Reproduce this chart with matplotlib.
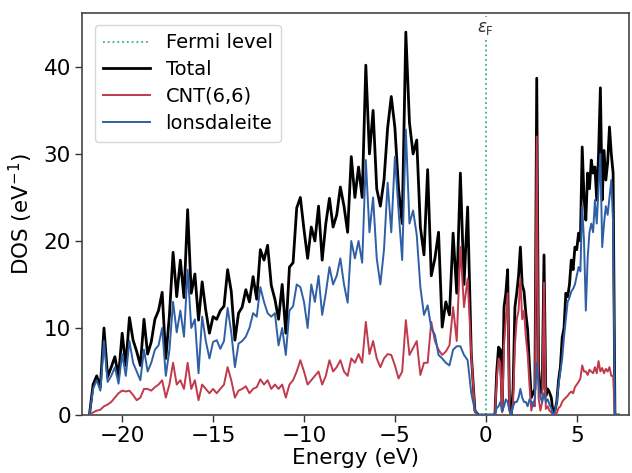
import numpy as np
import matplotlib
matplotlib.use("Agg")
import matplotlib.pyplot as plt

# Energy grids (eV): coarse on valence side, fine on conduction side
energy_left = np.round(np.arange(-21.8, 0.41, 0.2), 2)   # 112 points
energy_right = np.round(np.arange(0.5, 7.31, 0.1), 2)    # 69 points

total_left = [
    0, 3.5, 4.5, 3.2, 10, 4.4, 5.5, 6.7, 4.4, 9.4,
    5.7, 11.2, 8.6, 7.3, 5.7, 11, 7, 8.4, 11, 12,
    14.1, 6.5, 11.5, 18.7, 13.6, 17.8, 13.5, 23.6, 14, 16.2,
    10.9, 15.3, 12, 9.4, 11.3, 11, 12, 12.5, 16.7, 14.2,
    8.6, 11.7, 12.4, 14.4, 13, 15.9, 13.3, 19, 17.8, 19.5,
    14.9, 13.3, 11, 15, 9.4, 17, 17.5, 23.8, 25, 21.3,
    18, 21.6, 20, 24, 17.8, 22, 24.9, 21.6, 23, 26.2,
    24, 21, 29.7, 25, 28.5, 25, 40.2, 30, 35, 26,
    24, 27, 33, 36.6, 33, 26, 22, 44, 33.6, 30,
    31.6, 21.6, 18.4, 28.2, 16, 18, 21, 10.1, 13, 11.5,
    20.9, 14, 27.8, 15, 23.9, 7, 0.5, 0, 0, 0,
    0, 0,
]
total_right = [
    0, 5, 7.8, 7.5, 0.5, 12.4, 14, 16.7, 1, 0,
    3, 12.4, 14, 16, 19.3, 15, 14.2, 11.7, 9.8, 5.6,
    2, 2.5, 3, 38.7, 5.4, 2.5, 3, 18.4, 2.2, 3,
    2.6, 2, 0.2, 0.5, 1.5, 4, 5.5, 8.9, 10, 14,
    13.6, 15, 17.8, 16.7, 19.3, 19, 20.9, 20, 30.8, 25,
    22.4, 27.8, 26, 29.3, 27.8, 28.5, 24.7, 30, 37.6, 24.7,
    30.4, 27, 29, 33.1, 30, 27.8, 0, 0, 0,
]

lons_left = [
    0, 3, 4, 2.8, 8.5, 3.8, 4.5, 5.5, 3.6, 7,
    4.5, 8.5, 6, 5, 4, 7.5, 5, 6, 7.5, 8,
    10, 4.5, 7.5, 13, 9.5, 12, 9, 16.7, 10, 11,
    4.8, 11.3, 8.5, 6.5, 8.4, 8.6, 7.6, 8.5, 12.3, 9.5,
    5.5, 8.2, 8.5, 9, 10, 11.7, 11.3, 14.7, 13, 11.7,
    11.3, 11.7, 8, 10, 6.9, 12, 12.5, 15, 14.7, 13,
    10, 15, 13, 16, 11.5, 14, 17, 15, 16, 18,
    15, 12.9, 20, 18, 20, 17.5, 29.3, 21, 25, 18,
    15, 19, 26.7, 21, 29.7, 23.5, 17.8, 32.8, 22, 23.5,
    20.7, 14.7, 11.5, 12.6, 10, 9.2, 6.9, 6.5, 6, 5.7,
    7.5, 7.9, 7.9, 6.9, 6.3, 2.5, 0.5, 0, 0, 0,
    0, 0,
]
lons_right = [
    0, 0.8, 1, 1.5, 0.5, 1, 1.8, 1.5, 0.5, 0,
    1, 1.5, 1.5, 2, 3, 2, 1.5, 1.5, 1, 1.8,
    1.5, 1, 2, 6, 3.5, 2, 1.5, 2.5, 1.5, 1.8,
    1.2, 0.8, 0, 0.3, 1.5, 3.5, 5, 6.5, 9, 11,
    13, 13.5, 14.2, 14.5, 15, 16, 17, 16.5, 24, 20,
    12, 18, 21, 22, 21, 24.7, 22, 26, 30, 19.3,
    22, 24, 23, 25, 27, 22, 0, 0, 0,
]

cnt_left = [
    0, 0.3, 0.5, 0.6, 1, 1.2, 1.5, 2, 2.5, 2.8,
    2.7, 2.8, 2.3, 1.7, 2, 3, 3, 2.8, 3.2, 3.5,
    4, 2, 3.5, 6, 3.5, 4, 3, 6, 3, 4,
    1.7, 3.5, 3, 2.5, 3, 2.5, 3, 3.5, 5.5, 4,
    2, 2.8, 3, 3.3, 2.5, 3, 3.2, 4.1, 3.5, 4,
    3, 3.5, 3, 3.5, 2, 3.5, 4, 5, 6.3, 5,
    3.5, 4, 4.5, 5, 3.5, 4.5, 6.3, 5, 5.5, 6.3,
    5, 4.5, 6.5, 6, 7, 6, 10.7, 7, 8.5, 6.5,
    5.5, 6.5, 7, 6.9, 5.7, 4.2, 5, 10.9, 6.9, 7.7,
    8.5, 4.6, 6, 6, 10.7, 8.5, 7.5, 6.9, 7.3, 8,
    12.4, 8.5, 19.3, 12.4, 15.7, 7, 0.3, 0, 0, 0,
    0, 0,
]
cnt_right = [
    0, 4, 6.5, 6, 0.3, 8, 11, 14, 0.5, 0,
    1.5, 8, 11, 12, 15.7, 11, 12, 9, 7, 3.5,
    0.5, 1.5, 1, 32, 2, 0.5, 1.5, 15.2, 0.7, 1,
    0.5, 0.3, 0, 0, 0.2, 0.8, 1, 1.5, 1.8, 2,
    2.2, 2.5, 2.7, 2.5, 3.2, 3.5, 3.8, 4.2, 5.7, 5,
    5, 4.6, 5.2, 5, 4.8, 5.5, 4.8, 6.2, 5, 5.4,
    4.8, 5.3, 5, 5.5, 4.5, 4.5, 0, 0, 0,
]

energy = np.concatenate([energy_left, energy_right])
total = np.array(total_left + total_right)
lons = np.array(lons_left + lons_right)
cnt = np.array(cnt_left + cnt_right)

fermi = 0.0

plt.rcParams['font.family'] = ['DejaVu Sans']
fig = plt.figure(figsize=(6.32, 4.73), dpi=100)
ax = fig.add_axes([0.130, 0.1226, 0.866, 0.85])

ax.axvline(fermi, color='#3cb371', ls=':', lw=1.3, label='Fermi level', zorder=1)
ax.plot(energy, total, color='black', lw=2.0, label='Total', zorder=2)
ax.plot(energy, cnt, color='#c03a4c', lw=1.4, label='CNT(6,6)', zorder=3)
ax.plot(energy, lons, color='#2f5fa5', lw=1.4, label='lonsdaleite', zorder=4)

ax.text(fermi, 43.4, r'$\varepsilon_{\mathrm{F}}$', ha='center', va='bottom',
        fontsize=12, color='#333333',
        bbox=dict(facecolor='white', edgecolor='none', pad=1.5), zorder=5)

ax.set_xlim(-22.2, 7.9)
ax.set_ylim(0, 46.2)
ax.set_xticks([-20, -15, -10, -5, 0, 5])
ax.set_yticks([0, 10, 20, 30, 40])
ax.set_xticklabels(['\u221220', '\u221215', '\u221210', '\u22125', '0', '5'])
ax.tick_params(labelsize=15.5, length=5, width=1, color='#333333', pad=3)
ax.set_xlabel('Energy (eV)', fontsize=15.5, labelpad=1)
ax.set_ylabel(r'DOS (eV$^{-1}$)', fontsize=15.5, labelpad=6)
for s in ax.spines.values():
    s.set_color('#444444')
    s.set_linewidth(1.2)

leg = ax.legend(loc='upper left', fontsize=14, frameon=True, handlelength=2.4,
                borderpad=0.45, labelspacing=0.4, handletextpad=0.8,
                bbox_to_anchor=(0.005, 0.995))
leg.get_frame().set_edgecolor('#cccccc')

fig.savefig('out.png', dpi=100)
